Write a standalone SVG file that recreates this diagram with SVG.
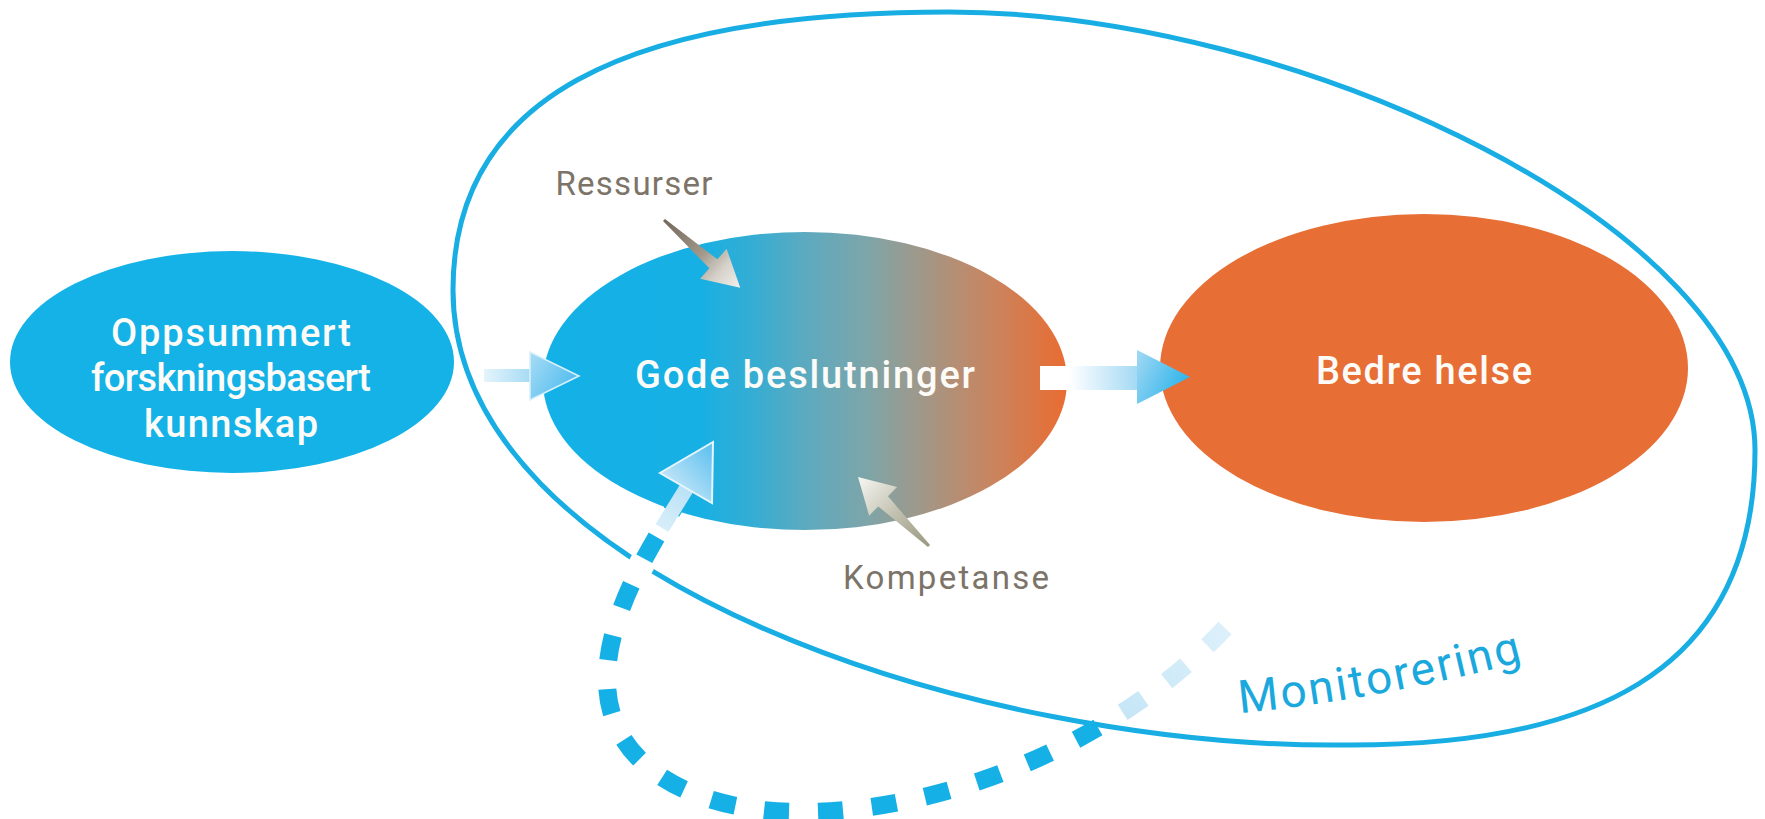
<svg xmlns="http://www.w3.org/2000/svg" width="1765" height="819" viewBox="0 0 1765 819">
  <defs>
    <style>
      .lbl { font-family: Roboto, "Liberation Sans", sans-serif; text-anchor: middle; font-weight: 500; }
      .white { fill: #fcfbf7; font-size: 38px; }
      .grey { fill: #7c7468; font-size: 33px; font-weight: 400; }
      .mon { fill: #1aa8dd; font-size: 46px; font-family: Roboto, "Liberation Sans", sans-serif; }
      .loop { fill: none; stroke: #18aee3; stroke-width: 5; }
    </style>
    <linearGradient id="gGode" x1="0" y1="0" x2="1" y2="0">
      <stop offset="0" stop-color="#13b1e7"/>
      <stop offset="0.3" stop-color="#17b0e4"/>
      <stop offset="0.4" stop-color="#35add3"/>
      <stop offset="0.5" stop-color="#5caac0"/>
      <stop offset="0.62" stop-color="#7ea5a8"/>
      <stop offset="0.74" stop-color="#a69583"/>
      <stop offset="0.86" stop-color="#ca845e"/>
      <stop offset="1" stop-color="#e96c31"/>
    </linearGradient>
    <linearGradient id="gShaftA" x1="0" y1="0" x2="1" y2="0">
      <stop offset="0" stop-color="#e4f4fc"/>
      <stop offset="1" stop-color="#a6dbf4"/>
    </linearGradient>
    <linearGradient id="gHeadA" x1="0" y1="0" x2="1" y2="0.6">
      <stop offset="0" stop-color="#a9dcf5"/>
      <stop offset="1" stop-color="#4fbcee"/>
    </linearGradient>
    <linearGradient id="gShaftB" x1="0" y1="0" x2="1" y2="0">
      <stop offset="0" stop-color="#ffffff"/>
      <stop offset="0.3" stop-color="#ffffff"/>
      <stop offset="1" stop-color="#a3d9f4"/>
    </linearGradient>
    <linearGradient id="gHeadB" x1="0" y1="0" x2="1" y2="0.5">
      <stop offset="0" stop-color="#a3d9f4"/>
      <stop offset="1" stop-color="#2fb4ea"/>
    </linearGradient>
    <linearGradient id="gRes" x1="0" y1="0" x2="1" y2="0">
      <stop offset="0" stop-color="#74685a"/>
      <stop offset="0.5" stop-color="#a1988a"/>
      <stop offset="0.75" stop-color="#d6d2ca"/>
      <stop offset="1" stop-color="#f3f1ed"/>
    </linearGradient>
    <linearGradient id="gKom" x1="0" y1="0" x2="1" y2="0">
      <stop offset="0" stop-color="#9a9880"/>
      <stop offset="0.5" stop-color="#c4c3b3"/>
      <stop offset="1" stop-color="#f7f7f3"/>
    </linearGradient>
    <linearGradient id="gDash" gradientUnits="userSpaceOnUse" x1="1225" y1="628" x2="1080" y2="742">
      <stop offset="0" stop-color="#dcf0fa"/>
      <stop offset="0.72" stop-color="#c6e6f6"/>
      <stop offset="0.8" stop-color="#14b0e6"/>
      <stop offset="1" stop-color="#14b0e6"/>
    </linearGradient>
    <linearGradient id="gDashShaft" gradientUnits="userSpaceOnUse" x1="662" y1="528" x2="688" y2="486">
      <stop offset="0" stop-color="#d8eef9"/>
      <stop offset="1" stop-color="#b9e1f6"/>
    </linearGradient>
    <linearGradient id="gDashHead" gradientUnits="userSpaceOnUse" x1="665" y1="490" x2="713" y2="445">
      <stop offset="0" stop-color="#cdeaf9"/>
      <stop offset="1" stop-color="#5cbfef"/>
    </linearGradient>
    <path id="monPath" d="M 1240 713 Q 1380 700 1535 658"/>
  </defs>

  <rect x="0" y="0" width="1765" height="819" fill="#ffffff"/>

  <g id="monitorering">
    <path class="loop" d="M 949 12 C 1300 12 1755 230 1755 450 C 1755 680 1580 745 1350 745 C 980 750 453 580 453 290 C 453 100 620 12 949 12 Z"/>
    <text class="mon"><textPath href="#monPath" textLength="288" lengthAdjust="spacing">Monitorering</textPath></text>
  </g>

  <g id="node-oppsummert">
    <ellipse cx="232" cy="362" rx="222" ry="111" fill="#14b2e7"/>
    <text class="lbl white" x="231" y="346" textLength="240" lengthAdjust="spacing">Oppsummert</text>
    <text class="lbl white" x="231" y="391" textLength="280" lengthAdjust="spacing">forskningsbasert</text>
    <text class="lbl white" x="231" y="437" textLength="174" lengthAdjust="spacing">kunnskap</text>
  </g>

  <g id="node-gode">
    <ellipse cx="805" cy="381" rx="262" ry="149" fill="url(#gGode)"/>
    <text class="lbl white" x="805" y="388" textLength="340" lengthAdjust="spacing">Gode beslutninger</text>
  </g>

  <g id="node-bedre">
    <ellipse cx="1424" cy="368" rx="264" ry="154" fill="#e76e35"/>
    <text class="lbl white" x="1424" y="384" textLength="216" lengthAdjust="spacing">Bedre helse</text>
  </g>

  <g id="node-ressurser">
    <text class="lbl grey" x="634" y="195" textLength="157" lengthAdjust="spacing">Ressurser</text>
  </g>

  <g id="node-kompetanse">
    <text class="lbl grey" x="946" y="589" textLength="206" lengthAdjust="spacing">Kompetanse</text>
  </g>

  <g id="connectors">
    <!-- Oppsummert -> Gode -->
    <rect x="484" y="369" width="47" height="13" fill="url(#gShaftA)"/>
    <polygon points="530,352 579,376 530,400" fill="url(#gHeadA)" stroke="#d9f0fb" stroke-width="1.5"/>

    <!-- Gode -> Bedre -->
    <rect x="1040" y="366" width="98" height="24" fill="url(#gShaftB)"/>
    <polygon points="1137,350 1190,377 1137,404" fill="url(#gHeadB)"/>

    <!-- Ressurser -> Gode -->
    <path d="M0,-1.5 L66,-6 L66,-20 L102,0 L66,20 L66,6 L0,1.5 Z" fill="url(#gRes)" transform="translate(664,220) rotate(41.6)"/>

    <!-- Kompetanse -> Gode -->
    <path d="M0,-1.5 L64,-7 L64,-20 L99,0 L64,20 L64,7 L0,1.5 Z" fill="url(#gKom)" transform="translate(929,546) rotate(-135.8)"/>

    <!-- Monitorering feedback (dashed) -->
    <path d="M 635 577 L 655 539" fill="none" stroke="#ffffff" stroke-width="26"/>
    <path d="M 1225 628 C 1120 740 950 812 800 812 C 700 812 607 770 607 680 C 607 610 655 540 686 488" fill="none" stroke="url(#gDash)" stroke-width="18" stroke-dasharray="25 29"/>
    <path d="M 662 528 L 688 486" fill="none" stroke="url(#gDashShaft)" stroke-width="15"/>
    <polygon points="713,442 660,473 712,503" fill="url(#gDashHead)" stroke="#e6f5fd" stroke-width="2" stroke-linejoin="miter"/>
  </g>
</svg>
